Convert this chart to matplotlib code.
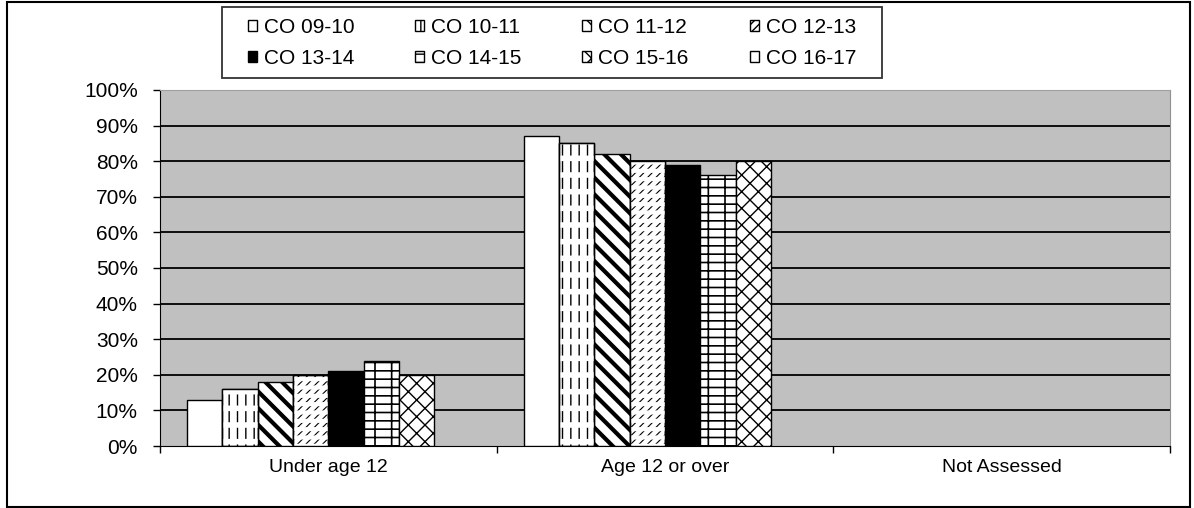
import numpy as np
import matplotlib
matplotlib.use('Agg')
import matplotlib.pyplot as plt
from matplotlib.patches import Rectangle

plt.rcParams['font.family'] = ['Liberation Sans', 'DejaVu Sans']

categories = ['Under age 12', 'Age 12 or over', 'Not Assessed']
series = ['CO 09-10', 'CO 10-11', 'CO 11-12', 'CO 12-13',
          'CO 13-14', 'CO 14-15', 'CO 15-16', 'CO 16-17']
co_0910 = [13, 87, 0]
co_1011 = [16, 85, 0]
co_1112 = [18, 82, 0]
co_1213 = [20, 80, 0]
co_1314 = [21, 79, 0]
co_1415 = [24, 76, 0]
co_1516 = [20, 80, 0]
co_1617 = [0, 0, 0]
values = [co_0910, co_1011, co_1112, co_1213, co_1314, co_1415, co_1516, co_1617]

# (facecolor, hatch, hatch linewidth, white breaking hatch, its linewidth)
styles = [('white', '', 1.0, None, 0),
          ('white', '||', 1.0, '-', 4.0),
          ('white', '\\\\', 3.0, None, 0),
          ('white', '////', 0.8, '--', 3.0),
          ('black', '', 1.0, None, 0),
          ('white', '--|', 1.2, None, 0),
          ('white', 'xx', 1.0, None, 0),
          ('white', '', 1.0, None, 0)]

fig = plt.figure(figsize=(11.94, 5.08), dpi=100)
ax = fig.add_axes([0.134, 0.122, 0.846, 0.701])
ax.set_facecolor('#c0c0c0')

x = np.arange(len(categories))
w = 0.105
handles = []
for i, (name, vals) in enumerate(zip(series, values)):
    fc, h, hlw, brk, brk_lw = styles[i]
    # empty bars are not drawn in the original
    heights = [v if v > 0 else np.nan for v in vals]
    pos = x - 3.5 * w + i * w
    with plt.rc_context({'hatch.linewidth': hlw}):
        b = ax.bar(pos, heights, w, color=fc, edgecolor='black',
                   linewidth=1, hatch=h, label=name, zorder=3)
    handles.append(b)
    if brk:
        # white lines across the hatch turn it into dashes
        with plt.rc_context({'hatch.linewidth': brk_lw}):
            ax.bar(pos, heights, w, facecolor='none', edgecolor='white',
                   linewidth=0, hatch=brk, zorder=3.1)
        ax.bar(pos, heights, w, facecolor='none', edgecolor='black',
               linewidth=1, zorder=3.2)

ax.set_xlim(-0.5, 2.5)
ax.set_ylim(0, 100)
ax.set_yticks(np.arange(0, 101, 10))
ax.set_yticklabels([f'{v}%' for v in range(0, 101, 10)], fontsize=15)
for v in range(10, 100, 10):
    ax.axhline(v, color='black', linewidth=1.3, zorder=1)

ax.set_xticks([-0.5, 0.5, 1.5, 2.5])
ax.set_xticklabels([])
ax.set_xticks(x, minor=True)
ax.set_xticklabels(categories, minor=True, fontsize=14)
ax.tick_params(axis='x', which='minor', length=0, pad=9)
ax.tick_params(axis='x', which='major', length=5, direction='out', width=1)
ax.tick_params(axis='y', length=5, direction='out', width=1, pad=11)

ax.spines['left'].set_color('black')
ax.spines['bottom'].set_color('black')
ax.spines['top'].set_color('#a0a0a0')
ax.spines['right'].set_color('#909090')

# row-major order like the original legend
order = [0, 4, 1, 5, 2, 6, 3, 7]
fig.legend([handles[k] for k in order], [series[k] for k in order],
           loc='center', ncol=4, bbox_to_anchor=(0.2077, 0.916, 0.5092, 0.0),
           mode='expand', fontsize=15, frameon=False,
           handlelength=0.43, handleheight=0.43, handletextpad=0.34,
           labelspacing=0.58, borderpad=0, borderaxespad=0)

# legend frame and outer chart border
fig.patches.append(Rectangle((0.1859, 0.8465), 0.5528, 0.1398, transform=fig.transFigure,
                             fill=False, edgecolor='#333333', linewidth=1.3))
fig.patches.append(Rectangle((0.006, 0.002), 0.991, 0.995, transform=fig.transFigure,
                             fill=False, edgecolor='black', linewidth=1.5))

fig.savefig('out.png', dpi=100)
